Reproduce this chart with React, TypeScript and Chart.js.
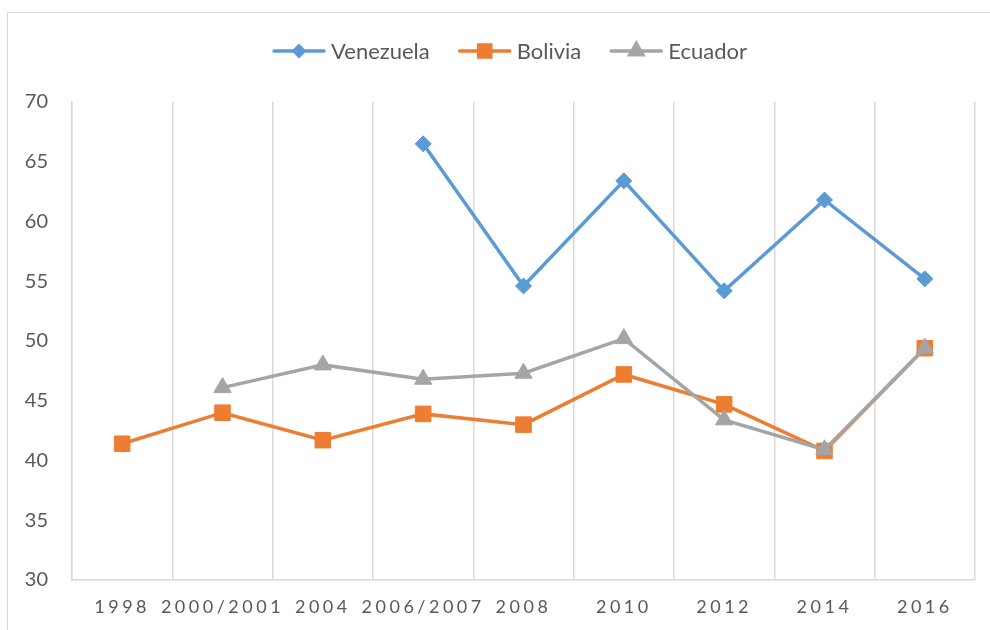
import React, { useEffect, useRef } from 'react';
import { Chart, registerables } from 'chart.js';

Chart.register(...registerables);

const categories = ['1998', '2000/2001', '2004', '2006/2007', '2008', '2010', '2012', '2014', '2016'];
const venezuela = [null, null, null, 66.5, 54.6, 63.4, 54.2, 61.8, 55.2];
const bolivia = [41.4, 44.0, 41.7, 43.9, 43.0, 47.2, 44.7, 40.8, 49.4];
const ecuador = [null, 46.1, 48.0, 46.8, 47.3, 50.2, 43.4, 40.9, 49.4];
const yMin = 30;
const yMax = 70;
const yStep = 5;

const FONT = 'Lato, "Open Sans", sans-serif';
const TEXT = '#595959';
const GRID = '#d9d9d9';

const framePlugin = {
  id: 'frame',
  beforeDraw(chart: any) {
    const ctx = chart.ctx;
    ctx.save();
    ctx.fillStyle = '#ffffff';
    ctx.fillRect(0, 0, chart.width, chart.height);
    ctx.strokeStyle = GRID;
    ctx.lineWidth = 1;
    ctx.strokeRect(7.5, 12.5, chart.width + 40, chart.height + 40);
    ctx.restore();
    const xs = chart.scales.x;
    if (xs && !xs.__spaced) {
      const orig = xs.drawLabels.bind(xs);
      xs.drawLabels = (area: any) => {
        const c = xs.ctx;
        c.save();
        c.letterSpacing = '3.5px';
        orig(area);
        c.restore();
      };
      xs.__spaced = true;
    }
  },
};

function drawMarker(ctx: CanvasRenderingContext2D, style: string, x: number, y: number, r: number) {
  ctx.beginPath();
  if (style === 'rectRot') {
    ctx.moveTo(x, y - r);
    ctx.lineTo(x + r, y);
    ctx.lineTo(x, y + r);
    ctx.lineTo(x - r, y);
  } else if (style === 'rect') {
    const s = Math.SQRT1_2 * r;
    ctx.rect(x - s, y - s, 2 * s, 2 * s);
  } else {
    ctx.moveTo(x, y - r);
    ctx.lineTo(x + r * Math.cos(Math.PI / 6), y + r / 2);
    ctx.lineTo(x - r * Math.cos(Math.PI / 6), y + r / 2);
  }
  ctx.closePath();
  ctx.fill();
}

const legendPlugin = {
  id: 'lineLegend',
  afterDraw(chart: any) {
    const ctx: CanvasRenderingContext2D = chart.ctx;
    const ds = chart.data.datasets;
    ctx.save();
    ctx.letterSpacing = '0px';
    ctx.font = `22px ${FONT}`;
    const lineLen = 54;
    const gapText = 5;
    const itemGap = 28;
    const widths = ds.map((d: any) => ctx.measureText(d.label).width);
    let total = 0;
    widths.forEach((w: number) => (total += lineLen + gapText + w));
    total += itemGap * (ds.length - 1);
    let x = 509.5 - total / 2;
    const y = 51;
    ds.forEach((d: any, i: number) => {
      ctx.strokeStyle = d.borderColor;
      ctx.fillStyle = d.borderColor;
      ctx.lineWidth = 3.5;
      ctx.lineCap = 'round';
      ctx.beginPath();
      ctx.moveTo(x + 2, y);
      ctx.lineTo(x + lineLen - 2, y);
      ctx.stroke();
      drawMarker(ctx, d.pointStyle, x + lineLen / 2, y, d.legendRadius);
      ctx.fillStyle = TEXT;
      ctx.textBaseline = 'middle';
      ctx.textAlign = 'left';
      ctx.fillText(d.label, x + lineLen + gapText, y + 1);
      x += lineLen + gapText + widths[i] + itemGap;
    });
    ctx.restore();
  },
};

export default function App() {
  const ref = useRef<HTMLCanvasElement | null>(null);

  useEffect(() => {
    if (!ref.current) return;
    const mk = (label: string, data: any[], color: string, style: string, r: number, lr: number, order: number) => ({
      label,
      data,
      borderColor: color,
      backgroundColor: color,
      pointBackgroundColor: color,
      pointBorderColor: color,
      pointBorderWidth: 1,
      pointStyle: style,
      pointRadius: r,
      pointHoverRadius: r,
      borderWidth: 3.5,
      tension: 0,
      fill: false,
      spanGaps: false,
      order,
      legendRadius: lr,
    });
    const chart = new Chart(ref.current, {
      type: 'line',
      data: {
        labels: categories,
        datasets: [
          mk('Venezuela', venezuela, '#5B9BD5', 'rectRot', 8, 7.5, 2),
          mk('Bolivia', bolivia, '#ED7D31', 'rect', 11, 11, 1),
          mk('Ecuador', ecuador, '#A5A5A5', 'triangle', 10, 11, 0),
        ] as any,
      },
      options: {
        animation: false,
        responsive: false,
        maintainAspectRatio: false,
        layout: { padding: { left: 0, top: 102, right: 15, bottom: 0 } },
        plugins: {
          legend: { display: false },
          tooltip: { enabled: false },
          title: { display: false },
        },
        scales: {
          x: {
            type: 'category',
            offset: true,
            grid: { display: true, offset: true, color: GRID, lineWidth: 1.5, drawTicks: false },
            border: { display: true, color: GRID, width: 1.5 },
            ticks: {
              color: TEXT,
              font: { family: FONT, size: 18 },
              padding: 16,
              autoSkip: false,
              maxRotation: 0,
              minRotation: 0,
            },
            afterFit: (s: any) => {
              s.height = 50;
            },
          },
          y: {
            min: yMin,
            max: yMax,
            grid: { display: false, drawTicks: false },
            border: { display: true, color: GRID, width: 1.5 },
            ticks: {
              stepSize: yStep,
              color: TEXT,
              font: { family: FONT, size: 20 },
              padding: 24,
            },
            afterFit: (s: any) => {
              s.width = 72;
            },
          },
        },
      },
      plugins: [framePlugin, legendPlugin],
    } as any);
    return () => chart.destroy();
  }, []);

  return (
    <div style={{ position: 'absolute', left: 0, top: 0, width: 990, height: 630, background: '#fff' }}>
      <canvas ref={ref} width={990} height={630} style={{ width: 990, height: 630, display: 'block' }} />
    </div>
  );
}
